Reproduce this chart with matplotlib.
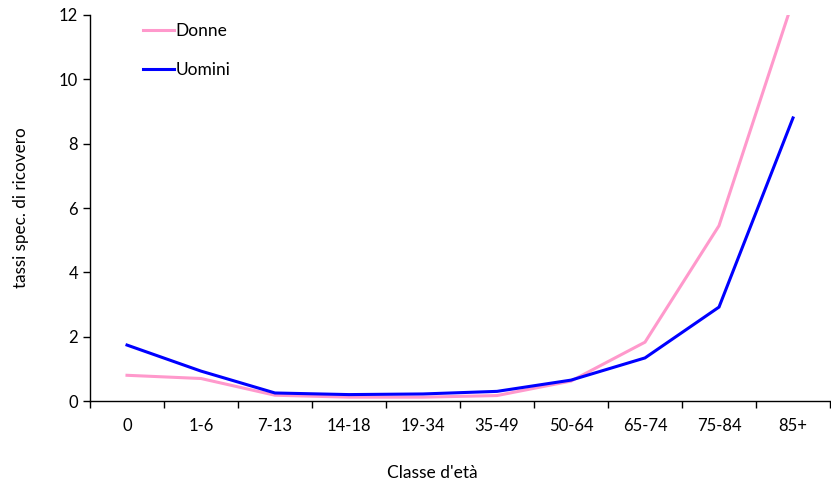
import numpy as np
import matplotlib.pyplot as plt

# age classes and hospitalisation rates
classi = ["0", "1-6", "7-13", "14-18", "19-34", "35-49", "50-64", "65-74", "75-84", "85+"]
donne = [0.80, 0.70, 0.18, 0.12, 0.12, 0.17, 0.62, 1.83, 5.45, 12.45]
uomini = [1.74, 0.93, 0.25, 0.20, 0.22, 0.30, 0.65, 1.34, 2.92, 8.80]

plt.rcParams['font.family'] = ['Lato', 'DejaVu Sans']

fig = plt.figure(figsize=(8.31, 4.82), dpi=100)
ax = fig.add_axes([0.1083, 0.168, 0.8905, 0.8009])

x = np.arange(len(classi))
ax.plot(x, donne, color="#FF99CC", lw=2.2, label="Donne", solid_joinstyle="miter")
ax.plot(x, uomini, color="#0000FF", lw=2.2, label="Uomini", solid_joinstyle="miter")

ax.set_xlim(-0.5, len(classi) - 0.5)
ax.set_ylim(0, 12)
ax.set_yticks(range(0, 13, 2))

# ticks at category boundaries, labels at centers
ax.set_xticks(np.arange(-0.5, len(classi), 1.0))
ax.set_xticklabels([])
ax.set_xticks(x, minor=True)
ax.set_xticklabels(classi, minor=True)
ax.tick_params(axis="x", which="major", direction="out", length=5, width=1)
ax.tick_params(axis="x", which="minor", length=0, pad=12, labelsize=12)
ax.tick_params(axis="y", direction="out", length=5, width=1, labelsize=12)

for s in ["top", "right"]:
    ax.spines[s].set_visible(False)
for s in ["left", "bottom"]:
    ax.spines[s].set_linewidth(1)

ax.set_xlabel("Classe d'età", fontsize=12.5)
ax.xaxis.set_label_coords(0.462, -0.165)
ax.set_ylabel("tassi spec. di ricovero", fontsize=12.3)
ax.yaxis.set_label_coords(-0.083, 0.5)

ax.legend(loc="upper left", bbox_to_anchor=(0.05, 1.02), frameon=False,
          fontsize=12.5, handlelength=1.8, handletextpad=0.1, labelspacing=1.35)

fig.savefig("out.png", dpi=100)
